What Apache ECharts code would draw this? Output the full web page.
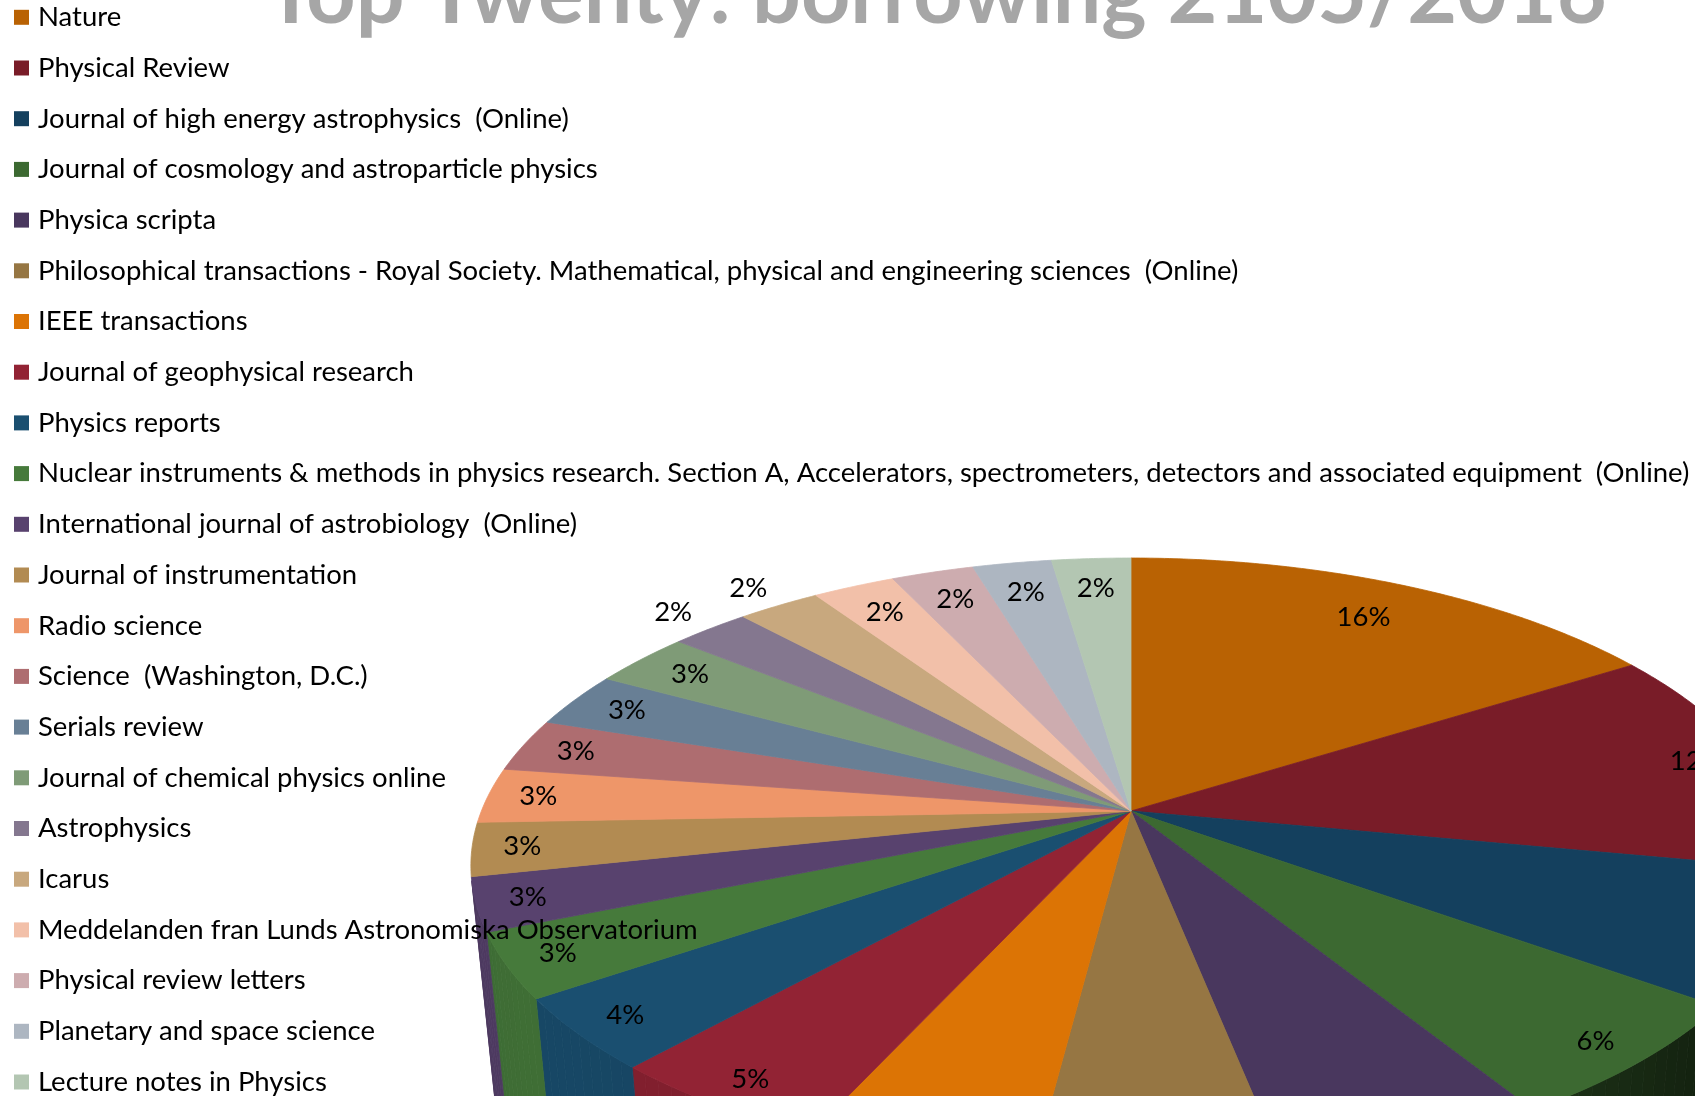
<!DOCTYPE html>
<html>
<head>
<meta charset="utf-8">
<script src="https://cdn.jsdelivr.net/npm/echarts@6/dist/echarts.min.js"></script>
<style>
  html, body { margin: 0; padding: 0; background: #ffffff; }
  #chart { width: 1695px; height: 1096px; }
</style>
</head>
<body>
<div id="chart"></div>
<script>
// ---------------- data ----------------
const titleText = 'Top Twenty: borrowing 2105/2016';

const journals = [
  'Nature',
  'Physical Review',
  'Journal of high energy astrophysics  (Online)',
  'Journal of cosmology and astroparticle physics',
  'Physica scripta',
  'Philosophical transactions - Royal Society. Mathematical, physical and engineering sciences  (Online)',
  'IEEE transactions',
  'Journal of geophysical research',
  'Physics reports',
  'Nuclear instruments & methods in physics research. Section A, Accelerators, spectrometers, detectors and associated equipment  (Online)',
  'International journal of astrobiology  (Online)',
  'Journal of instrumentation',
  'Radio science',
  'Science  (Washington, D.C.)',
  'Serials review',
  'Journal of chemical physics online',
  'Astrophysics',
  'Icarus',
  'Meddelanden fran Lunds Astronomiska Observatorium',
  'Physical review letters',
  'Planetary and space science',
  'Lecture notes in Physics'
];

// share of borrowing (percent)
const shares = [
  16.0, 12.0, 7.0, 6.2, 5.7, 5.1, 4.8, 4.8, 3.8, 3.4, 2.8,
  2.8, 2.9, 2.8, 2.9, 2.9, 2.3, 2.4, 2.4, 2.4, 2.3, 2.3
];

const colors = [
  '#B96203', '#791C28', '#14405E', '#3C6931', '#49375E', '#967643',
  '#DC7405', '#922334', '#1A4F70', '#467A3B', '#58426E', '#B28B52',
  '#EE9669', '#AE6D70', '#687F95', '#7F9B77', '#84778F', '#C8A87E',
  '#F2C0A9', '#CDACAF', '#ADB6C1', '#B3C6B2'
];

// slices whose percentage label sits outside the rim
const outsideLabels = ['Astrophysics', 'Icarus'];

// ---------------- 3D pie view ----------------
const view = {
  cx: 1131, cy: 811,      // screen position of the pie centre
  K: 3248, D: 5,          // perspective scale and camera distance (in radii)
  tilt: 27.3,             // camera elevation in degrees
  depth: 0.6,             // pie thickness (in radii)
  labelOut: 1.1
};
const labelRadiusOverride = { 'Nature': 0.84 };
const FONT = 'Lato, "Open Sans", sans-serif';

const total = shares.reduce((a, b) => a + b, 0);
const cumulative = [];
shares.reduce((acc, v) => { cumulative.push(acc); return acc + v; }, 0);

const sinA = Math.sin(view.tilt * Math.PI / 180);
const cosA = Math.cos(view.tilt * Math.PI / 180);

function project(X, Y, Z) {
  const yc = Y * cosA + Z * sinA;
  const zc = -Y * sinA + Z * cosA;
  const w = view.D + zc;
  return [view.cx + view.K * X / w, view.cy - view.K * yc / w];
}
function rim(t, r, Y) {
  return project(r * Math.sin(t), Y, r * Math.cos(t));
}
function shade(hex, f) {
  const n = parseInt(hex.slice(1), 16);
  const r = Math.round(((n >> 16) & 255) * f);
  const g = Math.round(((n >> 8) & 255) * f);
  const b = Math.round((n & 255) * f);
  return 'rgb(' + r + ',' + g + ',' + b + ')';
}
// visible part of the outer wall (normal facing the camera)
const visStart = Math.acos(-1 / (view.D * cosA));
const visEnd = 2 * Math.PI - visStart;

function makeRenderer(i) {
  return function (params, api) {
    const value = api.value(0);
    const a0 = cumulative[i] / total * 2 * Math.PI;
    const a1 = a0 + value / total * 2 * Math.PI;
    const base = colors[i];
    const children = [];

    // top face
    const pts = [project(0, 0, 0)];
    const steps = Math.max(2, Math.ceil((a1 - a0) / (0.5 * Math.PI / 180)));
    for (let k = 0; k <= steps; k++) {
      pts.push(rim(a0 + (a1 - a0) * k / steps, 1, 0));
    }
    children.push({
      type: 'polygon', z2: 10,
      shape: { points: pts },
      style: { fill: base, stroke: base, lineWidth: 0.8 }
    });

    // outer wall
    const w0 = Math.max(a0, visStart), w1 = Math.min(a1, visEnd);
    if (w1 > w0) {
      const ws = Math.max(1, Math.ceil((w1 - w0) / (1.5 * Math.PI / 180)));
      for (let k = 0; k < ws; k++) {
        const t0 = w0 + (w1 - w0) * k / ws;
        const t1 = w0 + (w1 - w0) * (k + 1) / ws;
        const tm = (t0 + t1) / 2;
        const f = 0.45 + 0.45 * Math.cos(tm - 235 * Math.PI / 180);
        const c = shade(base, f);
        children.push({
          type: 'polygon', z2: 2,
          shape: { points: [rim(t0, 1, 0), rim(t1, 1, 0), rim(t1, 1, -view.depth), rim(t0, 1, -view.depth)] },
          style: { fill: c, stroke: c, lineWidth: 0.8 }
        });
      }
    }

    // percentage label
    const mid = (a0 + a1) / 2;
    const name = journals[i];
    let lr;
    if (outsideLabels.indexOf(name) >= 0) lr = view.labelOut;
    else if (labelRadiusOverride[name] != null) lr = labelRadiusOverride[name];
    else lr = 0.925 - 0.06 * Math.max(0, Math.cos(mid));
    const lp = rim(mid, lr, 0);
    children.push({
      type: 'text', z2: 30,
      x: lp[0], y: lp[1],
      style: {
        text: Math.round(value / total * 100) + '%',
        fill: '#000000', font: '27.5px ' + FONT,
        align: 'center', verticalAlign: 'middle'
      }
    });
    return { type: 'group', children: children };
  };
}

const series = journals.map((name, i) => ({
  type: 'custom',
  name: name,
  coordinateSystem: 'none',
  silent: true,
  animation: false,
  itemStyle: { color: colors[i] },
  data: [shares[i]],
  renderItem: makeRenderer(i)
}));

const chart = echarts.init(document.getElementById('chart'), null, { renderer: 'canvas' });
chart.setOption({
  backgroundColor: '#ffffff',
  animation: false,
  color: colors,
  title: {
    text: titleText,
    left: 265,
    top: -48,
    padding: 0,
    textStyle: { color: '#A6A6A6', fontFamily: FONT, fontWeight: 'bold', fontSize: 86 }
  },
  legend: {
    orient: 'vertical',
    left: 14,
    top: 2.3,
    padding: 0,
    height: 1400,
    icon: 'rect',
    itemWidth: 15,
    itemHeight: 15,
    itemGap: 20.7,
    selectedMode: false,
    data: journals.map((n, i) => ({ name: n, itemStyle: { color: colors[i] } })),
    textStyle: { fontFamily: FONT, fontSize: 27.5, color: '#000000', lineHeight: 30, padding: [0, 0, 0, 4] }
  },
  series: series
});
</script>
</body>
</html>
